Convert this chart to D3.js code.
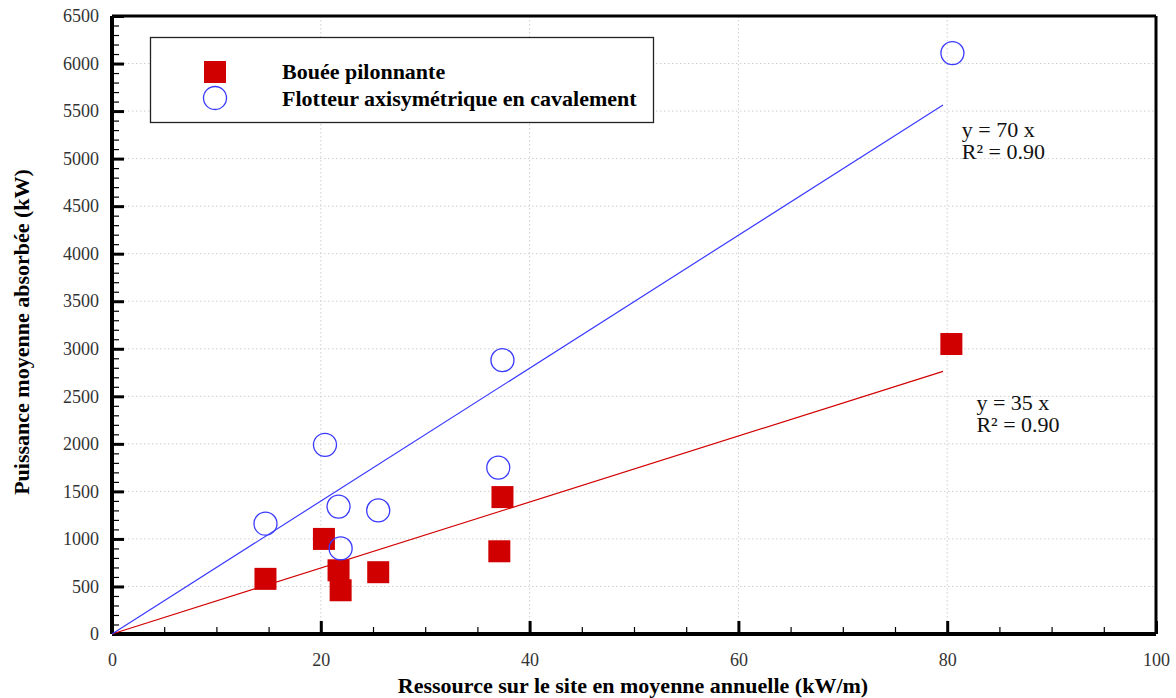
<!DOCTYPE html>
<html><head><meta charset="utf-8">
<script src="https://cdn.jsdelivr.net/npm/d3@7"></script>
<style>body{margin:0;background:#fff}svg{display:block}</style>
</head><body>
<svg id="c" width="1176" height="698"></svg>
<script>
const seriesNames = ["Bouée pilonnante", "Flotteur axisymétrique en cavalement"];
const bouéeX = [14.7, 20.3, 21.7, 21.9, 25.5, 37.1, 37.4, 80.4];
const bouéeY = [580, 1000, 670, 460, 650, 870, 1440, 3050];
const flotteurX = [14.7, 20.4, 21.7, 21.9, 25.5, 37.0, 37.4, 80.5];
const flotteurY = [1160, 1990, 1340, 900, 1300, 1750, 2880, 6110];
const trendSlopes = [34.7, 69.9];
const trendEndX = 79.6;
const trendLabels = [["y = 35 x", "R² = 0.90"], ["y = 70 x", "R² = 0.90"]];
const trendLabelPos = [[82.8, 2355], [81.4, 5227]];
const xTicks = [0, 20, 40, 60, 80, 100];
const yTicks = d3.range(0, 6501, 500);
const xTitle = "Ressource sur le site en moyenne annuelle (kW/m)";
const yTitle = "Puissance moyenne absorbée (kW)";

const L = 112, R = 1156, T = 16, B = 634;
const FF = '"Liberation Serif"';
const svg = d3.select("#c");
const x = d3.scaleLinear().domain([0, 100]).range([L, R]);
const y = d3.scaleLinear().domain([0, 6500]).range([B, T]);
const red = "#d10000", blue = "#3a3aff";

// grid
svg.append("g").selectAll("line").data(yTicks.filter(v => v > 0 && v < 6500)).join("line")
  .attr("x1", L).attr("x2", R).attr("y1", d => y(d)).attr("y2", d => y(d))
  .attr("stroke", "#cfcfcf").attr("stroke-width", 1).attr("stroke-dasharray", "1.5,2.5");
svg.append("g").selectAll("line").data(xTicks.filter(v => v > 0 && v < 100)).join("line")
  .attr("y1", T).attr("y2", B).attr("x1", d => x(d)).attr("x2", d => x(d))
  .attr("stroke", "#cfcfcf").attr("stroke-width", 1).attr("stroke-dasharray", "1.5,2.5");

// axes (ticks pointing inward)
const xMinor = d3.range(0, 101, 5).filter(v => v % 20 !== 0);
const yMinor = d3.range(0, 6501, 100).filter(v => v % 500 !== 0);
const gx = svg.append("g").attr("transform", `translate(0,${B})`);
gx.call(d3.axisBottom(x).tickValues(xMinor).tickSize(-7).tickFormat(""));
gx.selectAll("line").attr("stroke", "#000").attr("stroke-width", 1.2);
gx.select(".domain").remove();
const gx2 = svg.append("g").attr("transform", `translate(0,${B})`);
gx2.call(d3.axisBottom(x).tickValues(xTicks).tickSize(-13).tickPadding(19).tickFormat(d3.format("d")));
gx2.selectAll("line").attr("stroke", "#000").attr("stroke-width", 3);
gx2.select(".domain").remove();
gx2.selectAll("text").style("font-family", FF).style("font-size", "18px").attr("fill", "#333");

const gy = svg.append("g").attr("transform", `translate(${L},0)`);
gy.call(d3.axisLeft(y).tickValues(yMinor).tickSize(-7).tickFormat(""));
gy.selectAll("line").attr("stroke", "#000").attr("stroke-width", 1.2);
gy.select(".domain").remove();
const gy2 = svg.append("g").attr("transform", `translate(${L},0)`);
gy2.call(d3.axisLeft(y).tickValues(yTicks).tickSize(-12).tickPadding(13).tickFormat(d3.format("d")));
gy2.selectAll("line").attr("stroke", "#000").attr("stroke-width", 3);
gy2.select(".domain").remove();
gy2.selectAll("text").style("font-family", FF).style("font-size", "18px").attr("fill", "#333");

// frame
svg.append("line").attr("x1", L).attr("x2", R).attr("y1", B).attr("y2", B).attr("stroke", "#000").attr("stroke-width", 4);
svg.append("line").attr("x1", L).attr("x2", L).attr("y1", T).attr("y2", B).attr("stroke", "#000").attr("stroke-width", 4);
svg.append("line").attr("x1", L).attr("x2", R).attr("y1", T).attr("y2", T).attr("stroke", "#000").attr("stroke-width", 3);
svg.append("line").attr("x1", R).attr("x2", R).attr("y1", T).attr("y2", B).attr("stroke", "#000").attr("stroke-width", 3);

// trend lines
const colors = [red, blue];
trendSlopes.forEach((s, i) => {
  svg.append("line").attr("x1", x(0)).attr("y1", y(0)).attr("x2", x(trendEndX)).attr("y2", y(s * trendEndX))
    .attr("stroke", colors[i]).attr("stroke-width", 1.2);
  trendLabels[i].forEach((ln, j) => {
    svg.append("text").style("font-family", FF).style("font-size", "22px").attr("fill", "#111")
      .attr("x", x(trendLabelPos[i][0])).attr("y", y(trendLabelPos[i][1]) + j * 22).text(ln);
  });
});

// points
const bData = bouéeX.map((v, i) => [v, bouéeY[i]]);
const fData = flotteurX.map((v, i) => [v, flotteurY[i]]);
svg.append("g").selectAll("rect").data(bData).join("rect")
  .attr("x", d => x(d[0]) - 11).attr("y", d => y(d[1]) - 11).attr("width", 22).attr("height", 22).attr("fill", red);
svg.append("g").selectAll("circle").data(fData).join("circle")
  .attr("cx", d => x(d[0])).attr("cy", d => y(d[1])).attr("r", 11.5)
  .attr("fill", "none").attr("stroke", blue).attr("stroke-width", 1.3);

// legend
svg.append("rect").attr("x", 150.5).attr("y", 37.5).attr("width", 503).attr("height", 85)
  .attr("fill", "#fff").attr("stroke", "#222").attr("stroke-width", 1.3);
svg.append("rect").attr("x", 204).attr("y", 61).attr("width", 22).attr("height", 22).attr("fill", red);
svg.append("circle").attr("cx", 215).attr("cy", 98).attr("r", 11.5).attr("fill", "none").attr("stroke", blue).attr("stroke-width", 1.3);
seriesNames.forEach((n, i) => {
  svg.append("text").attr("x", 282).attr("y", 79 + i * 27).style("font-family", FF)
    .style("font-weight", "bold").style("font-size", "22px").attr("fill", "#000").text(n);
});

// titles
svg.append("text").attr("x", 633).attr("y", 693).attr("text-anchor", "middle").style("font-family", FF)
  .style("font-weight", "bold").style("font-size", "22px").text(xTitle);
svg.append("text").attr("transform", `translate(29,332) rotate(-90)`).attr("text-anchor", "middle").style("font-family", FF)
  .style("font-weight", "bold").style("font-size", "22px").text(yTitle);
</script>
</body></html>
